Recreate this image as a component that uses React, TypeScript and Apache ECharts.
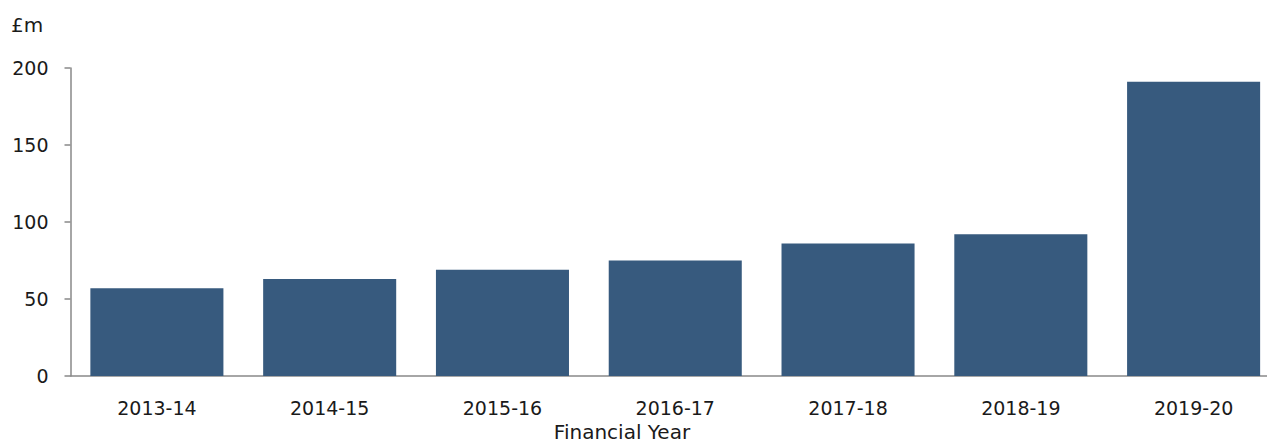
import React, { useEffect, useRef } from "react";
import * as echarts from "echarts";

const categories = ["2013-14", "2014-15", "2015-16", "2016-17", "2017-18", "2018-19", "2019-20"];
const values = [57, 63, 69, 75, 86, 92, 191];
const unitLabel = "£m";
const xAxisTitle = "Financial Year";

const FONT = "DejaVu Sans";
const TEXT = "#1a1a1a";
const AXIS = "#898989";

export default function App() {
  const ref = useRef<HTMLDivElement>(null);
  useEffect(() => {
    if (!ref.current) return;
    const chart = echarts.init(ref.current, null, { renderer: "svg" });
    chart.setOption({
      animation: false,
      backgroundColor: "#ffffff",
      grid: { left: 70.5, top: 68, bottom: 67, right: 10, containLabel: false },
      xAxis: {
        type: "category",
        data: categories,
        axisLine: { lineStyle: { color: AXIS, width: 1.5 } },
        axisTick: { show: false },
        axisLabel: { color: TEXT, fontFamily: FONT, fontSize: 19, margin: 22 },
      },
      yAxis: {
        type: "value",
        min: 0,
        max: 200,
        interval: 50,
        splitLine: { show: false },
        axisLine: { show: true, lineStyle: { color: AXIS, width: 1.5 } },
        axisTick: { show: true, length: 6, lineStyle: { color: AXIS, width: 1.5 } },
        axisLabel: { color: TEXT, fontFamily: FONT, fontSize: 19, margin: 22 },
      },
      graphic: [
        {
          type: "text",
          x: 11,
          y: 25,
          style: { text: unitLabel, fill: TEXT, fontFamily: FONT, fontSize: 20, verticalAlign: "middle" },
        },
        {
          type: "text",
          x: 622,
          y: 442,
          style: { text: xAxisTitle, fill: TEXT, fontFamily: FONT, fontSize: 20, align: "center", verticalAlign: "bottom" },
        },
      ],
      series: [
        {
          type: "bar",
          data: values,
          barCategoryGap: "23%",
          itemStyle: { color: "#375a7e" },
        },
      ],
    });
    return () => chart.dispose();
  }, []);
  return (
    <div style={{ position: "fixed", left: 0, top: 0, width: 1267, height: 443, overflow: "hidden" }}>
      <div ref={ref} style={{ width: 1290, height: 443 }} />
    </div>
  );
}
